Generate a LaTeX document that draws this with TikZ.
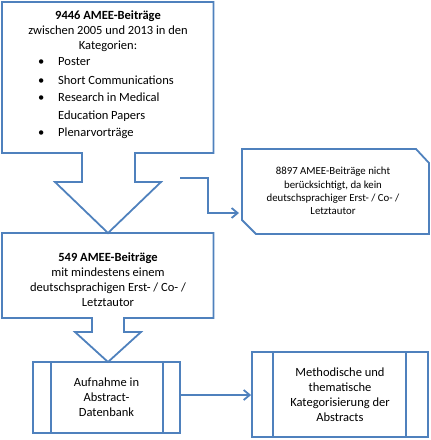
\documentclass[tikz,border=0pt]{standalone}
\usepackage{fontspec}
\setmainfont{Carlito}
\usetikzlibrary{arrows.meta}
\definecolor{ob}{RGB}{79,129,189}
\begin{document}
\begin{tikzpicture}[x=1pt,y=-1pt,
  outline/.style={draw=ob,line width=1.8pt,line join=miter},
  txt/.style={font=\fontsize{12.5}{15}\selectfont,align=center,inner sep=0pt},
  smalltxt/.style={font=\fontsize{10.8}{13.3}\selectfont,align=center,inner sep=0pt},
  item/.style={font=\fontsize{12.5}{15}\selectfont,anchor=west,inner sep=0pt,align=left},
  proc/.style={draw=ob,line width=1.8pt,inner sep=0pt,align=center,font=\fontsize{12.5}{15}\selectfont},
  conn/.style={draw=ob,line width=1.8pt,-{Straight Barb[length=6pt,width=10pt]}}
]
\useasboundingbox (0,0) rectangle (431,440);

% top block with down arrow
\draw[outline] (2,2) -- (213.5,2) -- (213.5,153) -- (135,153) -- (135,182) -- (161,182) -- (108,233) -- (55,182) -- (82,182) -- (82,153) -- (2,153) -- cycle;
\node[txt] (head) at (108,31) {\textbf{9446 AMEE-Beiträge}\\zwischen 2005 und 2013 in den\\Kategorien:};
\node[item] (i1) at (38,62) {\makebox[20pt][l]{•}Poster};
\node[item] (i2) at (38,80) {\makebox[20pt][l]{•}Short Communications};
\node[item,font=\fontsize{12.5}{18}\selectfont] (i3) at (38,107) {\makebox[20pt][l]{•}Research in Medical\\\hspace*{20pt}Education Papers};
\node[item] (i4) at (38,133) {\makebox[20pt][l]{•}Plenarvorträge};

% second block with down arrow
\draw[outline] (2,233) -- (213.5,233) -- (213.5,318) -- (124,318) -- (124,332) -- (141,332) -- (108,362) -- (75,332) -- (92,332) -- (92,318) -- (2,318) -- cycle;
\node[txt] (n549) at (108,280) {\textbf{549 AMEE-Beiträge}\\mit mindestens einem\\deutschsprachigen Erst- / Co- /\\Letztautor};

% excluded callout
\coordinate (ca) at (242,149);
\coordinate (cb) at (416,149);
\coordinate (cc) at (429,163);
\coordinate (cd) at (429,234);
\coordinate (ce) at (256,234);
\coordinate (cf) at (242,220);
\draw[outline] (ca) -- (cb) -- (cc) -- (cd) -- (ce) -- (cf) -- cycle;
\node[smalltxt] (excl) at (333,191) {8897 AMEE-Beiträge nicht\\berücksichtigt, da kein\\deutschsprachiger Erst- / Co- /\\Letztautor};

\coordinate (from) at (180,178);
\coordinate (to) at (242,213);
\draw[conn,shorten >=3pt] (from) -- (208,178) |- (to);

% process boxes
\node[proc,minimum width=147pt,minimum height=71pt] (b3) at (106.5,397.5) {Aufnahme in\\Abstract-\\Datenbank};
\draw[outline] ([xshift=19pt]b3.north west) -- ([xshift=19pt]b3.south west);
\draw[outline] ([xshift=-18pt]b3.north east) -- ([xshift=-18pt]b3.south east);

\node[proc,minimum width=176pt,minimum height=85pt] (b4) at (340,394.5) {Methodische und\\thematische\\Kategorisierung der\\Abstracts};
\draw[outline] ([xshift=22pt]b4.north west) -- ([xshift=22pt]b4.south west);
\draw[outline] ([xshift=-23pt]b4.north east) -- ([xshift=-23pt]b4.south east);

\draw[conn] ([yshift=2.5pt]b3.east) -- ([yshift=2.5pt]b3.east -| b4.west);
\end{tikzpicture}
\end{document}
